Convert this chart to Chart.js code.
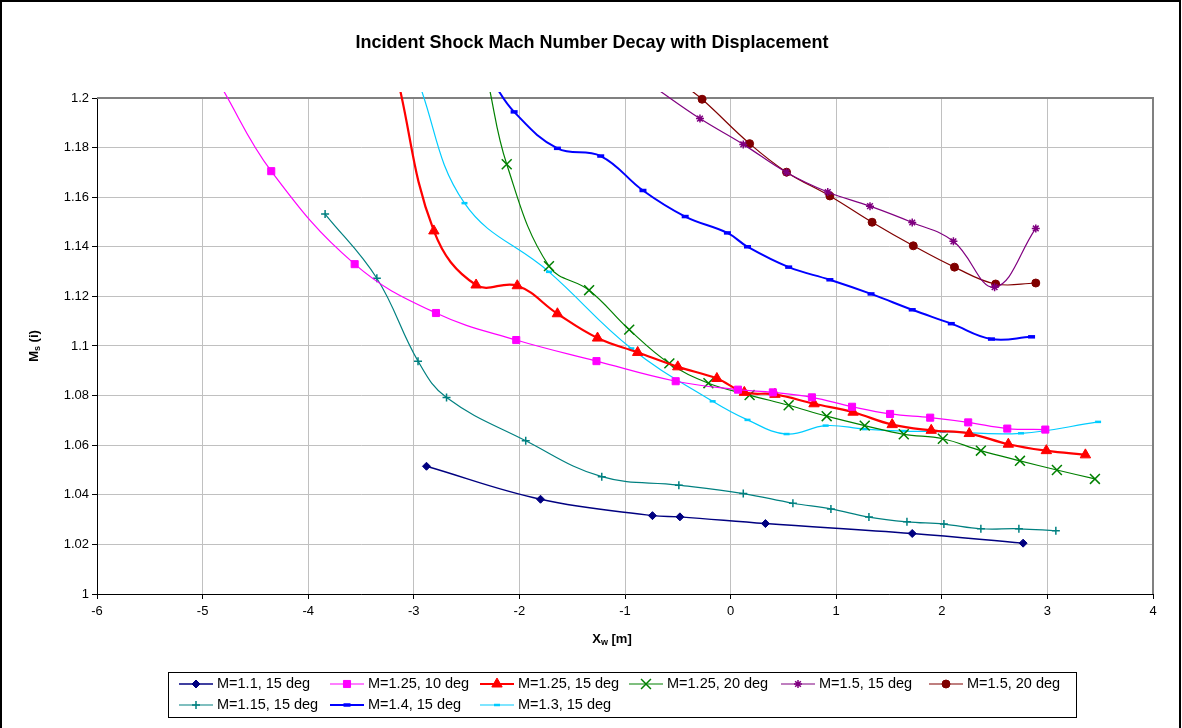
<!DOCTYPE html>
<html>
<head>
<meta charset="utf-8">
<script src="https://cdn.jsdelivr.net/npm/chart.js@4/dist/chart.umd.min.js"></script>
<style>
  html, body { margin: 0; padding: 0; background: #fff; }
  canvas { display: block; }
</style>
</head>
<body>
<canvas id="shockChart" width="1182" height="728"></canvas>
<script>
// legend names, in legend order
const seriesNames = [
    'M=1.1, 15 deg', 'M=1.25, 10 deg', 'M=1.25, 15 deg', 'M=1.25, 20 deg',
    'M=1.5, 15 deg', 'M=1.5, 20 deg', 'M=1.15, 15 deg', 'M=1.4, 15 deg', 'M=1.3, 15 deg'
];

// [Xw, Ms] (first point of some series sits just above 1.2, off the plot)
const m110_15 = [[-2.88,1.0515],[-1.80,1.0382],[-0.74,1.0316],[-0.48,1.0311],[0.33,1.0284],[1.72,1.0244],[2.77,1.0205]];
const m125_10 = [[-4.83,1.205],[-4.35,1.1705],[-3.56,1.133],[-2.79,1.1133],[-2.03,1.1024],[-1.27,1.0939],[-0.52,1.0858],
    [0.07,1.0824],[0.40,1.0813],[0.77,1.0793],[1.15,1.0755],[1.51,1.0726],[1.89,1.0711],[2.25,1.0692],[2.62,1.0667],[2.98,1.0663]];
const m125_15 = [[-3.15,1.207],[-2.81,1.1464],[-2.41,1.1246],[-2.02,1.1243],[-1.64,1.113],[-1.26,1.1032],[-0.88,1.0974],
    [-0.50,1.0916],[-0.13,1.0869],[0.13,1.0813],[0.42,1.0805],[0.79,1.0767],[1.16,1.0733],[1.53,1.0683],[1.90,1.066],
    [2.26,1.0647],[2.63,1.0604],[2.99,1.0578],[3.36,1.0561]];
const m125_20 = [[-2.30,1.207],[-2.12,1.1733],[-1.72,1.1322],[-1.34,1.1225],[-0.96,1.1066],[-0.58,1.093],[-0.21,1.085],
    [0.18,1.0802],[0.55,1.0761],[0.91,1.0717],[1.27,1.0679],[1.64,1.0644],[2.01,1.0626],[2.37,1.0578],[2.74,1.0537],
    [3.09,1.05],[3.45,1.0464]];
const m150_15 = [[-0.72,1.2043],[-0.29,1.1917],[0.12,1.1813],[0.53,1.17],[0.92,1.1621],[1.32,1.1564],[1.72,1.1498],
    [2.11,1.1422],[2.50,1.1237],[2.89,1.1474]];
const m150_20 = [[-0.48,1.2063],[-0.27,1.1995],[0.18,1.1816],[0.53,1.1701],[0.94,1.1605],[1.34,1.1499],[1.73,1.1404],
    [2.12,1.1318],[2.51,1.125],[2.89,1.1254]];
const m115_15 = [[-3.84,1.1532],[-3.35,1.1273],[-2.96,1.0939],[-2.69,1.0792],[-1.94,1.0618],[-1.22,1.0473],[-0.49,1.0439],
    [0.12,1.0405],[0.59,1.0366],[0.95,1.0343],[1.31,1.031],[1.67,1.0291],[2.02,1.0282],[2.37,1.0263],[2.73,1.0263],[3.08,1.0255]];
const m140_15 = [[-2.26,1.207],[-2.05,1.1944],[-1.64,1.1797],[-1.23,1.1766],[-0.83,1.1627],[-0.43,1.1522],[-0.03,1.1456],
    [0.16,1.14],[0.55,1.1318],[0.94,1.1267],[1.33,1.121],[1.72,1.1146],[2.09,1.109],[2.47,1.1028],[2.85,1.1037]];
const m130_15 = [[-2.96,1.207],[-2.52,1.1576],[-1.72,1.1299],[-0.94,1.099],[-0.17,1.0777],[0.16,1.0702],[0.53,1.0645],
    [0.90,1.0679],[1.27,1.0665],[1.64,1.0657],[2.01,1.0655],[2.75,1.0648],[3.48,1.0694]];

const xTicks = { min: -6, max: 4, step: 1 };
const yTicks = { min: 1, max: 1.2, step: 0.02 };

const seriesData = [m110_15, m125_10, m125_15, m125_20, m150_15, m150_20, m115_15, m140_15, m130_15];

// look of each series (same order)
const styles = [
    { color: '#000080', width: 1.4, point: 'rectRot', r: 4, pbw: 1, fill: true },
    { color: '#ff00ff', width: 1.2, point: 'rect', r: 5, pbw: 1, fill: true },
    { color: '#ff0000', width: 2.2, point: 'triangle', r: 6, pbw: 1, fill: true },
    { color: '#008000', width: 1.2, point: 'crossRot', r: 7, pbw: 1.5, fill: false },
    { color: '#800080', width: 1.2, point: 'star', r: 4, pbw: 1.5, fill: false },
    { color: '#800000', width: 1.2, point: 'circle', r: 4, pbw: 1, fill: true },
    { color: '#008080', width: 1.2, point: 'cross', r: 4, pbw: 1.5, fill: false },
    { color: '#0000ff', width: 2, point: 'line', r: 3.5, pbw: 3.5, fill: false },
    { color: '#00ccff', width: 1.2, point: 'line', r: 3, pbw: 2.5, fill: false }
];

const FONT = "'Liberation Sans', Arial, sans-serif";
Chart.defaults.font.family = FONT;
Chart.defaults.color = '#000';

function subText(ctx, parts, x, y) {
    // parts: [text, size, dy]
    let total = 0;
    parts.forEach(p => { ctx.font = 'bold ' + p[1] + 'px ' + FONT; total += ctx.measureText(p[0]).width; });
    let cx = x - total / 2;
    ctx.textAlign = 'left';
    ctx.textBaseline = 'middle';
    parts.forEach(p => {
        ctx.font = 'bold ' + p[1] + 'px ' + FONT;
        ctx.fillText(p[0], cx, y + p[2]);
        cx += ctx.measureText(p[0]).width;
    });
}

const decorations = {
    id: 'decorations',
    beforeDraw(chart) {
        const ctx = chart.ctx;
        ctx.save();
        ctx.fillStyle = '#fff';
        ctx.fillRect(0, 0, chart.width, chart.height);
        ctx.restore();
    },
    beforeDatasetsDraw(chart) {
        const { ctx, chartArea: a } = chart;
        ctx.save();
        ctx.strokeStyle = '#808080';
        ctx.lineWidth = 2;
        ctx.beginPath();
        ctx.moveTo(a.left, a.top);
        ctx.lineTo(a.right, a.top);
        ctx.lineTo(a.right, a.bottom);
        ctx.stroke();
        ctx.restore();
    },
    afterDraw(chart) {
        const ctx = chart.ctx;
        ctx.save();
        // outer frame
        ctx.strokeStyle = '#000';
        ctx.lineWidth = 2;
        ctx.beginPath();
        ctx.moveTo(1, chart.height);
        ctx.lineTo(1, 1);
        ctx.lineTo(1180, 1);
        ctx.lineTo(1180, chart.height);
        ctx.stroke();

        // title
        ctx.fillStyle = '#000';
        ctx.font = 'bold 18px ' + FONT;
        ctx.textAlign = 'center';
        ctx.textBaseline = 'middle';
        ctx.fillText('Incident Shock Mach Number Decay with Displacement', 592, 43);

        // axis titles
        subText(ctx, [['X', 13, 0], ['w', 9, 4], [' [m]', 13, 0]], 612, 639);
        ctx.save();
        ctx.translate(34, 346);
        ctx.rotate(-Math.PI / 2);
        subText(ctx, [['M', 13, 0], ['s', 9, 4], [' (i)', 13, 0]], 0, 0);
        ctx.restore();

        // legend
        ctx.strokeStyle = '#000';
        ctx.lineWidth = 1;
        ctx.strokeRect(168.5, 672.5, 908, 45);
        const cols = [179, 330, 480, 629, 781, 929];
        const rows = [684, 705];
        ctx.font = '14.5px ' + FONT;
        seriesNames.forEach((name, i) => {
            const st = styles[i];
            const x0 = cols[i % 6];
            const y0 = rows[Math.floor(i / 6)];
            ctx.strokeStyle = st.color;
            ctx.lineWidth = st.width;
            ctx.beginPath();
            ctx.moveTo(x0, y0);
            ctx.lineTo(x0 + 34, y0);
            ctx.stroke();
            ctx.fillStyle = st.color;
            ctx.lineWidth = st.pbw;
            Chart.helpers.drawPoint(ctx, { pointStyle: st.point, radius: st.r, rotation: 0, borderWidth: st.pbw }, x0 + 17, y0);
            ctx.fillStyle = '#000';
            ctx.textAlign = 'left';
            ctx.textBaseline = 'middle';
            ctx.fillText(name, x0 + 38, y0);
        });
        ctx.restore();
    }
};

const datasets = seriesData.map((pts, i) => {
    const st = styles[i];
    return {
        label: seriesNames[i],
        data: pts.map(p => ({ x: p[0], y: p[1] })),
        showLine: true,
        tension: 0.4,
        borderColor: st.color,
        backgroundColor: st.color,
        borderWidth: st.width,
        pointStyle: st.point,
        pointRadius: st.r,
        pointBorderWidth: st.pbw,
        pointBorderColor: st.color,
        pointBackgroundColor: st.fill ? st.color : 'rgba(0,0,0,0)',
        clip: { left: 0, top: 6, right: 0, bottom: 0 }
    };
});

const ctx = document.getElementById('shockChart').getContext('2d');
const chart = new Chart(ctx, {
    type: 'scatter',
    data: { datasets: datasets },
    options: {
        responsive: false,
        animation: false,
        devicePixelRatio: 1,
        layout: { padding: { left: 0, top: 98, right: 29, bottom: 0 } },
        plugins: {
            legend: { display: false },
            tooltip: { enabled: false },
            title: { display: false }
        },
        scales: {
            x: {
                type: 'linear',
                min: xTicks.min,
                max: xTicks.max,
                ticks: { stepSize: xTicks.step, font: { size: 13 }, padding: 5, color: '#000',
                    callback: v => String(v) },
                grid: { color: '#c0c0c0', tickColor: '#000', tickLength: 5 },
                border: { color: '#000', width: 1 },
                afterFit(s) { s.height = 134; }
            },
            y: {
                type: 'linear',
                min: yTicks.min,
                max: yTicks.max,
                ticks: { stepSize: yTicks.step, font: { size: 13 }, padding: 3, color: '#000',
                    callback: v => String(+v.toFixed(2)) },
                grid: { color: '#c0c0c0', tickColor: '#000', tickLength: 5 },
                border: { color: '#000', width: 1 },
                afterFit(s) { s.width = 97; }
            }
        }
    },
    plugins: [decorations]
});
</script>
</body>
</html>
